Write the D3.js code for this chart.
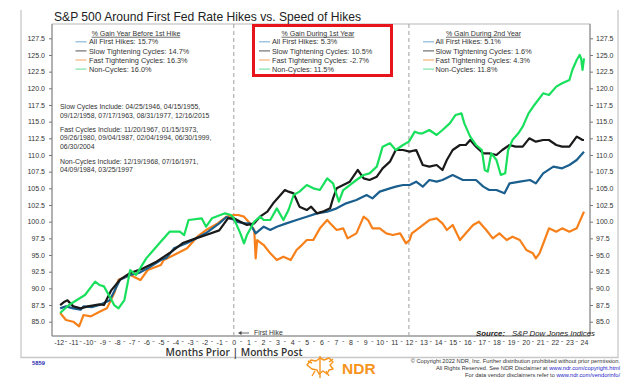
<!DOCTYPE html>
<html><head><meta charset="utf-8">
<script src="https://cdn.jsdelivr.net/npm/d3@7"></script>
<style>html,body{margin:0;padding:0;background:#fff;}svg{display:block;font-family:"Liberation Sans",Arial,sans-serif;}</style>
</head><body><svg id="c" width="624" height="378"></svg>
<script>
// ---- data ----
const xTicks = d3.range(-12, 25);
const yTicks = [85, 87.5, 90, 92.5, 95, 97.5, 100, 102.5, 105, 107.5, 110, 112.5, 115, 117.5, 120, 122.5, 125, 127.5];
const seriesNames = ["All First Hikes", "Slow Tightening Cycles", "Fast Tightening Cycles", "Non-Cycles"];
const legendBefore = ["All First Hikes: 15.7%", "Slow Tightening Cycles: 14.7%", "Fast Tightening Cycles: 16.3%", "Non-Cycles: 16.0%"];
const legendYear1 = ["All First Hikes: 5.3%", "Slow Tightening Cycles: 10.5%", "Fast Tightening Cycles: -2.7%", "Non-Cycles: 11.5%"];
const legendYear2 = ["All First Hikes: 5.1%", "Slow Tightening Cycles: 1.6%", "Fast Tightening Cycles: 4.3%", "Non-Cycles: 11.8%"];
const cycleNotes = [
  ["Slow Cycles Include: 04/25/1946, 04/15/1955,", "09/12/1958, 07/17/1963, 08/31/1977, 12/16/2015"],
  ["Fast Cycles Include: 11/20/1967, 01/15/1973,", "09/26/1980, 09/04/1987, 02/04/1994, 06/30/1999,", "06/30/2004"],
  ["Non-Cycles Include: 12/19/1968, 07/16/1971,", "04/09/1984, 03/25/1997"]
];
// [month, index value]
const allFirstHikes = [[-11.9,87.0],[-11.5,87.3],[-11.0,87.0],[-10.5,86.8],[-10.3,87.3],[-9.7,87.2],[-9.2,87.5],[-8.5,88.2],[-7.8,91.3],[-7.1,92.0],[-6.5,92.3],[-5.9,93.0],[-5.0,94.25],[-4.6,94.6],[-4.1,96.0],[-3.2,96.8],[-2.5,97.6],[-1.9,98.3],[-1.0,99.75],[-0.5,100.7],[0,100.3],[0.2,100.0],[0.7,99.75],[1.1,99.75],[1.5,98.25],[2.05,99.25],[2.5,98.75],[2.95,99.25],[3.6,99.75],[4.3,100.25],[5.0,100.75],[5.7,101.25],[6.4,101.5],[7.05,102],[7.7,102.75],[8.4,103.25],[9.1,104],[9.5,103.5],[10.0,104.5],[10.7,105],[11.1,105.25],[11.6,105.5],[12.05,105.5],[12.5,106],[12.95,105.25],[13.4,106.25],[13.9,106],[14.3,106.25],[15.0,107],[15.7,106.25],[16.6,106.25],[17.1,105.25],[17.5,104.75],[18.0,104.75],[18.55,104.25],[18.9,105.75],[19.6,106],[20.3,106.25],[20.7,105.75],[21.2,107.25],[21.9,108.25],[22.5,108],[23.0,108.5],[23.5,109.25],[23.8,110],[24.0,110.5]];
const slowCycles = [[-11.9,87.5],[-11.6,88.0],[-11.4,88.2],[-11.0,87.3],[-10.5,87.0],[-10.0,87.3],[-9.2,87.6],[-8.9,87.5],[-8.4,89.7],[-7.8,91.3],[-7.1,92.3],[-6.2,93.0],[-5.3,94.0],[-4.4,95.3],[-3.5,96.8],[-2.6,97.5],[-1.9,98.0],[-1.0,98.7],[-0.4,100.5],[0,100.5],[0.45,100],[0.9,99.5],[1.4,99.75],[1.8,100.75],[2.3,101.5],[2.7,102.75],[3.2,104],[3.5,104.75],[3.75,104.5],[4.1,104.25],[4.3,103.25],[4.5,102.25],[5.0,101.75],[5.3,102.25],[5.7,101.25],[6.1,101.5],[6.6,102],[6.8,103.5],[7.05,105],[7.5,105.5],[7.95,106],[8.5,107.75],[8.9,106.5],[9.3,106.25],[9.8,106.75],[10.2,108],[10.7,109],[11.1,110.75],[11.6,110.75],[12.05,110.5],[12.5,110.75],[12.95,108.5],[13.4,108.25],[13.9,108.5],[14.3,107.75],[14.6,109.25],[15.0,110.75],[15.5,111.5],[15.9,111.5],[16.2,112.25],[16.6,111.25],[17.1,110.25],[17.5,110.25],[18.0,110],[18.4,110.75],[18.9,111.5],[19.3,111.25],[19.8,111.25],[20.25,112.5],[20.7,112],[21.2,112.25],[21.6,112.25],[22.1,111.5],[22.5,111.25],[23.0,111.25],[23.5,112.75],[23.7,112.5],[23.9,112.25],[24.0,112.25]];
const fastCycles = [[-11.9,86.3],[-11.5,85.25],[-11.0,85.0],[-10.6,84.3],[-10.3,86.0],[-9.8,85.8],[-9.2,86.5],[-8.7,87.0],[-8.2,89.25],[-7.9,91.3],[-7.1,92.0],[-6.4,91.25],[-5.9,92.75],[-5.0,93.5],[-4.8,94.25],[-4.1,95.0],[-3.2,96.0],[-2.5,97.75],[-1.9,98.75],[-1.1,99.75],[-0.5,100.75],[0,101],[0.3,101],[0.7,100.75],[1.1,99.75],[1.4,98.75],[1.5,94.5],[1.6,97.25],[2.05,96.5],[2.5,95.25],[2.95,94.25],[3.4,94.75],[3.9,94.25],[4.3,95.75],[4.55,96.25],[5.0,97.25],[5.45,97.25],[5.9,99],[6.4,100.25],[6.6,99.75],[7.05,98.75],[7.5,99],[7.8,97.5],[8.4,98.25],[8.9,100.75],[9.2,100.25],[9.5,99],[10.0,99],[10.45,98.25],[10.9,98],[11.4,98.25],[11.8,96.75],[12.05,97.25],[12.2,98.25],[12.5,98.75],[12.95,99.5],[13.4,100.25],[13.9,100.5],[14.3,99.75],[14.6,98.75],[15.0,99.5],[15.5,97.25],[15.9,98.25],[16.4,99.5],[16.8,100],[17.3,98.75],[17.75,97.5],[18.2,98.25],[18.7,97.25],[19.1,97.75],[19.6,97.25],[20.05,95.75],[20.5,95.25],[20.7,94.5],[20.95,95.25],[21.3,97.25],[21.6,99],[22.1,98.5],[22.5,99],[23.0,98.5],[23.5,99],[23.7,100],[23.9,101],[24.0,101.5]];
const nonCycles = [[-11.9,86.3],[-11.3,87.5],[-10.2,89.0],[-9.5,91.0],[-9.2,90.5],[-8.9,90.3],[-8.5,88.75],[-8.2,87.5],[-7.9,87.0],[-7.5,88.25],[-7.1,92.75],[-6.7,92.0],[-6.0,94.5],[-5.1,96.75],[-4.4,98.5],[-3.7,98.5],[-3.4,98.0],[-3.1,100.25],[-2.2,100.5],[-1.9,99.25],[-1.5,100.5],[-0.6,101.25],[-0.2,101],[0,100.5],[0.45,98.25],[0.7,96.75],[0.9,98],[1.4,100],[1.8,100.75],[2.05,100.25],[2.5,100.25],[2.95,102],[3.4,100.25],[3.75,101.75],[4.1,104],[4.5,104.5],[5.0,105.5],[5.45,105],[5.9,104.75],[6.4,106.5],[6.8,105.75],[7.2,103],[7.5,104.75],[7.95,105.5],[8.4,106.25],[8.9,107],[9.3,107.25],[9.8,108.25],[10.2,111.25],[10.7,111.75],[11.1,110.75],[11.6,111.5],[12.0,112.0],[12.4,113.5],[12.7,113.25],[12.95,113.25],[13.4,113.75],[13.9,113],[14.3,113.75],[14.8,114.75],[15.2,116],[15.6,116.25],[15.8,114.75],[16.2,112.75],[16.6,111.5],[17.0,110.75],[17.2,107.75],[17.4,107.5],[17.65,110.25],[18.0,109.25],[18.3,107],[18.6,107.25],[18.8,110.75],[19.1,112.25],[19.5,113.25],[19.8,114.25],[20.2,116.25],[20.6,117.5],[21.2,119.25],[21.6,119],[22.1,120.25],[22.5,120.75],[23.0,121.25],[23.2,122.75],[23.5,124.25],[23.7,125],[23.8,124.5],[23.9,122.75],[24.0,124.5]];

// ---- drawing ----
const svg = d3.select("#c");
const lineColors = ["#1b5f8f", "#1a1a1a", "#f7801a", "#18e05c"];
const legendColors = ["#8ab8dc", "#707070", "#f7b27a", "#7fe3a6"];
const x = d3.scaleLinear().domain([-12, 24]).range([58.7, 584]);
const y = d3.scaleLinear().domain([85, 127.5]).range([321.7, 38.3]);
const L = 52, R = 590, T = 24, B = 336;

// outer frame
svg.append("path").attr("d", "M21,10V357.5H618V10").attr("fill", "none").attr("stroke", "#c8c8c8").attr("stroke-width", 1.3);
// plot frame
svg.append("rect").attr("x", L).attr("y", T).attr("width", R - L).attr("height", B - T)
  .attr("fill", "none").attr("stroke", "#b8b8b8").attr("stroke-width", 1);
svg.append("line").attr("x1", L).attr("x2", L).attr("y1", T).attr("y2", B).attr("stroke", "#888");
svg.append("line").attr("x1", R).attr("x2", R).attr("y1", T).attr("y2", B).attr("stroke", "#888");
svg.append("line").attr("x1", L).attr("x2", R).attr("y1", B).attr("y2", B).attr("stroke", "#888");

// title
svg.append("text").attr("x", 54).attr("y", 21).attr("font-size", 12.1).attr("fill", "#222")
  .text("S&P 500 Around First Fed Rate Hikes vs. Speed of Hikes");

// y axes
const yl = svg.append("g").attr("transform", `translate(${L},0)`)
  .call(d3.axisLeft(y).tickValues(yTicks).tickFormat(d3.format(".1f")).tickSize(3).tickPadding(4));
const yr = svg.append("g").attr("transform", `translate(${R},0)`)
  .call(d3.axisRight(y).tickValues(yTicks).tickFormat(d3.format(".1f")).tickSize(3).tickPadding(3));
[yl, yr].forEach(g => {
  g.select(".domain").remove();
  g.selectAll("line").attr("stroke", "#777");
  g.selectAll("text").attr("font-size", 7).attr("fill", "#333").attr("font-family", "Liberation Sans, Arial, sans-serif");
});
// x axis
const xa = svg.append("g").attr("transform", `translate(0,${B})`)
  .call(d3.axisBottom(x).tickValues(xTicks).tickFormat(d => String(d)).tickSize(0).tickPadding(4));
xa.select(".domain").remove();
xa.selectAll("text").attr("font-size", 7).attr("fill", "#333").attr("font-family", "Liberation Sans, Arial, sans-serif");
svg.append("g").selectAll("line").data(xTicks.slice(0, -1)).join("line")
  .attr("x1", d => x(d + 0.5) - 1).attr("x2", d => x(d + 0.5) + 1).attr("y1", 341.5).attr("y2", 341.5)
  .attr("stroke", "#777").attr("stroke-width", 0.7);

// dashed verticals
svg.append("g").selectAll("line").data([0, 12]).join("line")
  .attr("x1", d => x(d)).attr("x2", d => x(d)).attr("y1", T).attr("y2", B)
  .attr("stroke", "#a8a8a8").attr("stroke-width", 1.1).attr("stroke-dasharray", "4,3");

// series
const line = d3.line().x(d => x(d[0])).y(d => y(d[1]));
const order = [2, 0, 1, 3];
const allSeries = [allFirstHikes, slowCycles, fastCycles, nonCycles];
svg.append("g").selectAll("path").data(order).join("path")
  .attr("d", i => line(allSeries[i])).attr("fill", "none")
  .attr("stroke", i => lineColors[i]).attr("stroke-width", 2.2).attr("stroke-linejoin", "round");

// legends
function legend(x0, lineX, hdr, hdrCx, items) {
  const g = svg.append("g");
  g.append("text").attr("x", hdrCx).attr("y", 35.8).attr("text-anchor", "middle").attr("font-size", 7)
    .attr("fill", "#333").attr("text-decoration", "underline").text(hdr);
  items.forEach((t, i) => {
    const yy = 41.8 + i * 9.1;
    g.append("line").attr("x1", lineX).attr("x2", lineX + 11).attr("y1", yy).attr("y2", yy)
      .attr("stroke", legendColors[i]).attr("stroke-width", 1.2);
    g.append("text").attr("x", x0).attr("y", yy + 2.6).attr("font-size", 7.3).attr("fill", "#333").text(t);
  });
}
legend(89, 75.5, "% Gain Year Before 1st Hike", 136, legendBefore);
legend(272, 259, "% Gain During 1st Year", 318, legendYear1);
legend(435.5, 423, "% Gain During 2nd Year", 483.5, legendYear2);
svg.append("rect").attr("x", 253.5).attr("y", 25.5).attr("width", 138).attr("height", 50)
  .attr("fill", "none").attr("stroke", "#e8141c").attr("stroke-width", 3);

// cycle notes
const noteStarts = [106.9, 129.4, 161.2];
cycleNotes.forEach((blk, bi) => {
  blk.forEach((t, li) => {
    svg.append("text").attr("x", 60).attr("y", noteStarts[bi] + li * 8.4 + 2.4).attr("font-size", 6.9)
      .attr("fill", "#333").text(t);
  });
});

// first hike annotation
svg.append("line").attr("x1", 240).attr("x2", 249).attr("y1", 333).attr("y2", 333).attr("stroke", "#444").attr("stroke-width", 0.8);
svg.append("path").attr("d", "M238,333l3.5,-2v4z").attr("fill", "#444");
svg.append("text").attr("x", 254).attr("y", 335.4).attr("font-size", 6.8).attr("fill", "#333").text("First Hike");

// source
const src = svg.append("text").attr("x", 476).attr("y", 335.5).attr("font-size", 7.8).attr("fill", "#222").attr("font-style", "italic");
src.append("tspan").attr("font-weight", "bold").text("Source:");
src.append("tspan").attr("dx", 7).text("S&P Dow Jones Indices");

// x title
svg.append("text").attr("x", 234).attr("y", 356.3).attr("text-anchor", "middle").attr("font-size", 10.2)
  .attr("font-weight", 600).attr("fill", "#333").attr("font-family", "Open Sans, Liberation Sans, sans-serif")
  .text("Months Prior | Months Post");

// footer
svg.append("text").attr("x", 32).attr("y", 365).attr("font-size", 5.8).attr("font-weight", "bold").attr("fill", "#2c2cb0").text("5859");
const logo = svg.append("g").attr("fill", "none").attr("stroke", "#f7941d").attr("stroke-width", 1.4).attr("stroke-linejoin", "round");
logo.append("path").attr("d", "M307,365 l4,-5 l5,1 l4,-3 l4,2 l5,-2 l4,4 l-3,3 l3,4 l-4,1 l-2,4 l-4,-3 l-4,3 l-2,-4 l-5,-1 z");
logo.append("path").attr("d", "M320,356 v22 M315,371 l-3,5 M326,371 l3,5 M312,363 l-4,-2 M329,362 l4,-3");
svg.append("text").attr("x", 342).attr("y", 373.5).attr("font-size", 15.5).attr("font-weight", "bold").attr("fill", "#f7941d").text("NDR");
const copy = [
  [["© Copyright 2022 NDR, Inc. Further distribution prohibited without prior permission.", "#333"]],
  [["All Rights Reserved. See NDR Disclaimer at ", "#333"], ["www.ndr.com/copyright.html", "#2424c8"]],
  [["For data vendor disclaimers refer to ", "#333"], ["www.ndr.com/vendorinfo/", "#2424c8"]]
];
copy.forEach((parts, i) => {
  const t = svg.append("text").attr("x", 620).attr("y", 363 + i * 7).attr("text-anchor", "end").attr("font-size", 5.7);
  parts.forEach(p => t.append("tspan").attr("fill", p[1]).text(p[0]));
});
</script></body></html>
